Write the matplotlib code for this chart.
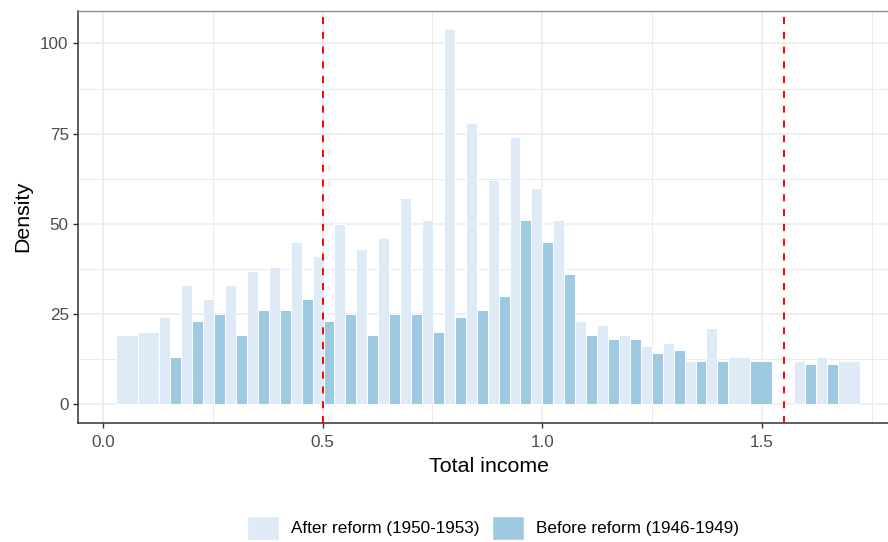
import numpy as np
import matplotlib
matplotlib.use("Agg")
import matplotlib.pyplot as plt
from matplotlib.patches import Patch

plt.rcParams["font.family"] = ["Liberation Sans", "DejaVu Sans"]

# histogram bins (total income)
bin_start = 0.029
bin_width = 0.0498
n_bins = 34

# bar heights per bin, None = no bar in that bin
after_reform = [19, 20, 24, 33, 29, 33, 37, 38, 45, 41, 50, 43, 46, 57, 51, 104, 78, 62,
                74, 60, 51, 23, 22, 19, 16, 17, 12, 21, 13, None, None, 12, 13, 12]
before_reform = [None, None, 13, 23, 25, 19, 26, 26, 29, 23, 25, 19, 25, 25, 20, 24, 26, 30,
                 51, 45, 36, 19, 18, 18, 14, 15, 12, 12, None, 12, None, 11, 11, None]

cutoffs = [0.5, 1.55]

labels = ["After reform (1950-1953)", "Before reform (1946-1949)"]
colors = ["#DEEBF7", "#9ECAE1"]

fig = plt.figure(figsize=(8.88, 5.42), dpi=100)
ax = fig.add_axes([78.3 / 888, 119.3 / 542, (900 - 78.3) / 888, (422.7 - 11) / 542])

lefts = bin_start + bin_width * np.arange(n_bins)
for i in range(n_bins):
    a, b = after_reform[i], before_reform[i]
    if a is not None and b is not None:
        ax.bar(lefts[i], a, width=bin_width / 2, align="edge", color=colors[0],
               edgecolor="white", linewidth=0.7, zorder=2)
        ax.bar(lefts[i] + bin_width / 2, b, width=bin_width / 2, align="edge", color=colors[1],
               edgecolor="white", linewidth=0.7, zorder=2)
    elif a is not None:
        ax.bar(lefts[i], a, width=bin_width, align="edge", color=colors[0],
               edgecolor="white", linewidth=0.7, zorder=2)
    elif b is not None:
        ax.bar(lefts[i], b, width=bin_width, align="edge", color=colors[1],
               edgecolor="white", linewidth=0.7, zorder=2)

for c in cutoffs:
    ax.axvline(c, color="red", linewidth=1.4, linestyle=(0, (3.6, 4.0)), zorder=3)

ax.set_xlim(-0.056, 1.814)
ax.set_ylim(-5.2, 109.0)
ax.set_xticks([0.0, 0.5, 1.0, 1.5])
ax.set_xticklabels(["0.0", "0.5", "1.0", "1.5"])
ax.set_yticks([0, 25, 50, 75, 100])
ax.set_xticks([0.25, 0.75, 1.25, 1.75], minor=True)
ax.set_yticks([12.5, 37.5, 62.5, 87.5], minor=True)

ax.grid(True, which="major", color="#EBEBEB", linewidth=1.2, zorder=0)
ax.grid(True, which="minor", color="#EBEBEB", linewidth=0.7, zorder=0)
ax.set_axisbelow(True)

ax.tick_params(axis="both", which="major", labelsize=12.3, labelcolor="#4D4D4D",
               color="#333333", length=3.9, width=1.0, pad=3)
ax.tick_params(axis="x", which="major", pad=5)
ax.tick_params(axis="both", which="minor", length=0)

for side in ["left", "bottom"]:
    ax.spines[side].set_color("#333333")
    ax.spines[side].set_linewidth(1.1)
ax.spines["top"].set_color("#8C8C8C")
ax.spines["top"].set_linewidth(1.0)
ax.spines["right"].set_color("#8C8C8C")

ax.set_xlabel("Total income", fontsize=15.4, labelpad=5)
ax.set_ylabel("Density", fontsize=15.4, labelpad=6)

handles = [Patch(facecolor=colors[0], edgecolor="white"),
           Patch(facecolor=colors[1], edgecolor="white")]
fig.legend(handles, labels, loc="center", bbox_to_anchor=(493 / 888, 14 / 542),
           ncol=2, frameon=False, fontsize=12.3, handlelength=1.87, handleheight=1.87,
           handletextpad=0.70, columnspacing=0.76, borderpad=0)

fig.savefig("out.png", dpi=100)
